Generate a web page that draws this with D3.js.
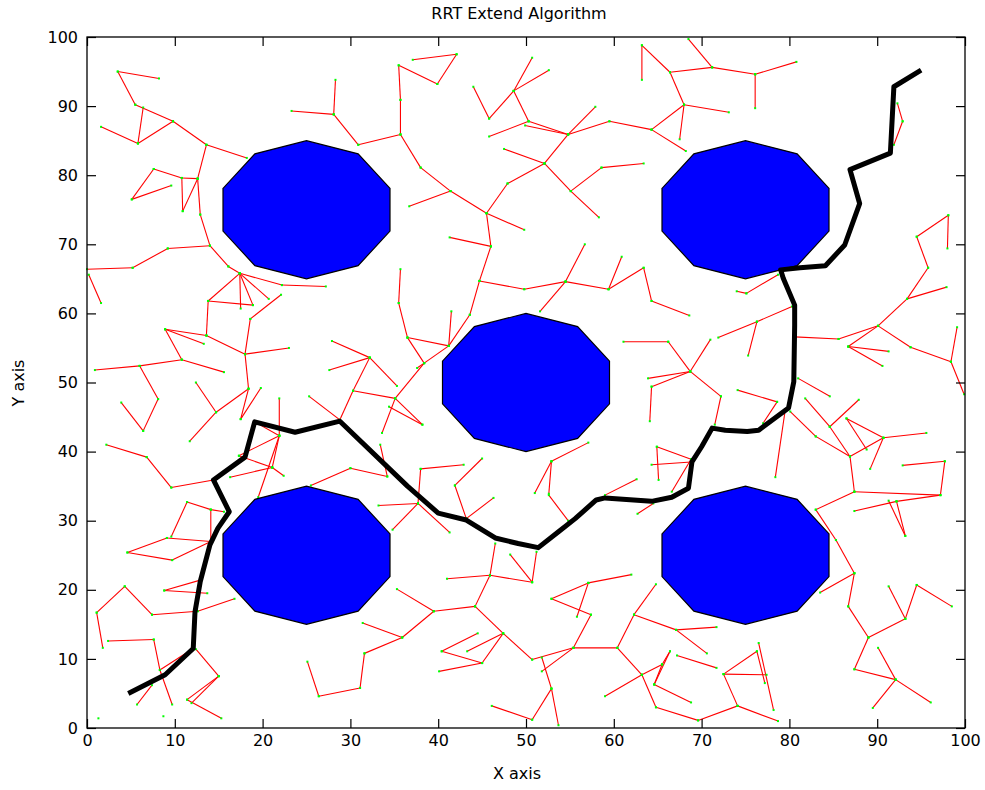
<!DOCTYPE html>
<html>
<head>
<meta charset="utf-8">
<script src="https://cdn.jsdelivr.net/npm/d3@7"></script>
<style>
  body { margin: 0; background: #fff; }
  svg { display: block; }
  text { font-family: "DejaVu Sans", Verdana, sans-serif; fill: #000; }
</style>
</head>
<body>
<svg id="chart" width="985" height="790"></svg>
<script>
// ---- data -------------------------------------------------------------
const xTicks = [0, 10, 20, 30, 40, 50, 60, 70, 80, 90, 100];
const yTicks = [0, 10, 20, 30, 40, 50, 60, 70, 80, 90, 100];

// circular obstacles (drawn as decagons)
const obstacleX = [25, 75, 50, 25, 75];
const obstacleY = [75, 75, 50, 25, 25];
const obstacleR = [10, 10, 10, 10, 10];

// final path from start (5,5) to goal (95,95)
const pathX = [4.7, 8.9, 12.1, 12.3, 12.9, 14.0, 14.9, 16.2, 14.4, 18.0, 19.1, 23.7, 28.8, 36.5, 40.0, 43.2, 46.5, 49.1, 51.4, 53.7, 55.6, 58.0, 59.0, 64.3, 66.6, 68.5, 68.9, 70.0, 71.2, 72.7, 75.2, 76.5, 79.9, 80.5, 80.6, 80.6, 79.3, 79.0, 81.2, 84.1, 86.3, 88.0, 86.9, 91.5, 91.9, 95.0];
const pathY = [5.0, 7.7, 11.5, 16.8, 21.2, 26.5, 28.9, 31.3, 35.9, 39.2, 44.3, 42.8, 44.4, 35.0, 31.1, 30.1, 27.5, 26.7, 26.1, 28.4, 30.3, 33.0, 33.3, 32.8, 33.4, 34.7, 38.5, 40.7, 43.4, 43.1, 42.9, 43.1, 46.3, 50.1, 58.3, 61.2, 65.1, 66.3, 66.6, 66.9, 69.9, 75.9, 80.8, 83.2, 92.8, 95.2];

// tree edges: [x1, y1, x2, y2]
const treeEdges = [
  [3.5,95.0, 8.2,94.0], [3.5,95.0, 5.5,90.2], [5.5,90.2, 9.8,87.8], [6.4,89.8, 5.8,84.6],
  [1.6,87.0, 5.8,84.6], [5.8,84.6, 9.8,87.8], [9.8,87.8, 13.6,84.4], [13.6,84.4, 18.2,82.5],
  [13.6,84.4, 12.6,79.5], [7.6,80.9, 10.8,79.6], [10.8,79.6, 12.6,79.5], [10.8,79.6, 10.9,74.8],
  [10.9,74.8, 12.6,79.5], [7.6,80.9, 5.1,76.5], [5.1,76.5, 9.6,78.5], [12.6,79.5, 12.9,74.3],
  [12.9,74.3, 14.0,69.8], [14.0,69.8, 9.2,69.4], [9.2,69.4, 5.2,66.6], [14.0,69.8, 16.1,66.8],
  [23.3,89.3, 28.1,88.8],
  [28.1,88.8, 28.3,93.8], [28.1,88.8, 30.9,84.4], [30.9,84.4, 35.7,85.9], [35.7,85.9, 35.7,90.9],
  [35.7,90.9, 35.5,95.9], [35.5,95.9, 39.9,93.2], [39.9,93.2, 42.1,97.5], [42.1,97.5, 37.1,96.7],
  [35.7,85.9, 38.0,81.1], [38.0,81.1, 41.4,77.7], [41.4,77.7, 36.7,75.5], [41.4,77.7, 45.5,74.5],
  [45.5,74.5, 49.8,72.1], [45.5,74.5, 46.0,69.7], [46.0,69.7, 41.3,71.0], [46.0,69.7, 44.7,64.7],
  [45.5,74.5, 47.9,78.8], [47.9,78.8, 52.1,81.7], [47.5,83.8, 52.1,81.7], [45.8,85.6, 50.3,87.8],
  [44.0,92.8, 45.8,88.2], [45.8,88.2, 48.6,92.2], [48.6,92.2, 50.7,97.0], [48.6,92.2, 52.6,95.2],
  [48.6,92.2, 50.3,87.8],
  [50.3,87.8, 54.8,85.9], [49.9,87.2, 54.8,85.9], [54.8,85.9, 57.9,89.9], [54.8,85.9, 59.5,87.8],
  [59.5,87.8, 64.3,86.6], [64.3,86.6, 68.0,90.2], [64.3,86.6, 68.2,83.5], [68.0,90.2, 66.4,94.9],
  [68.0,90.2, 73.1,89.1], [68.0,90.2, 67.5,85.2], [66.4,94.9, 63.2,98.8], [63.2,98.8, 63.2,93.8],
  [66.4,94.9, 71.2,95.6], [71.2,95.6, 68.5,99.7], [71.2,95.6, 76.1,94.6], [54.8,85.9, 52.1,81.7],
  [52.1,81.7, 55.1,77.7], [55.1,77.7, 58.6,81.1], [58.6,81.1, 63.4,81.7], [55.1,77.7, 58.3,73.9],
  [56.7,70.0, 54.5,64.6], [60.9,68.2, 59.4,63.5],
  [76.1,94.6, 80.8,96.4], [76.1,94.6, 76.1,89.7], [92.3,90.4, 92.9,87.8], [92.9,87.8, 91.9,84.4],
  [98.1,74.2, 94.5,71.1], [98.1,74.2, 98.0,69.4], [94.5,71.1, 95.8,66.6],
  [0.0,66.4, 5.2,66.6], [0.2,65.6, 1.6,61.5], [16.1,66.8, 17.4,65.8], [17.4,65.8, 13.8,61.8],
  [17.4,65.8, 17.5,60.7], [17.4,65.8, 18.9,61.2], [17.4,65.8, 20.7,62.1], [17.4,65.8, 22.2,64.1],
  [13.8,61.8, 18.9,61.2], [13.8,61.8, 13.6,56.8], [13.6,56.8, 8.9,57.7], [8.9,57.7, 13.3,55.6],
  [8.9,57.7, 10.8,53.3], [13.6,56.8, 18.0,54.1], [18.0,54.1, 18.6,59.2], [18.6,59.2, 22.1,62.7],
  [18.0,54.1, 23.0,55.0], [10.8,53.3, 6.0,52.4], [6.0,52.4, 0.9,51.8], [10.8,53.3, 15.6,51.5],
  [6.0,52.4, 8.1,47.6], [8.1,47.6, 6.4,43.0], [6.4,43.0, 3.9,47.1], [12.4,50.0, 14.7,45.7],
  [14.7,45.7, 11.7,41.5], [14.7,45.7, 18.4,49.1], [18.0,54.1, 18.4,49.1], [18.4,49.1, 17.5,44.7],
  [19.8,49.2, 17.5,44.7], [21.9,47.7, 21.9,42.3], [19.1,44.3, 21.9,42.3], [21.9,42.3, 19.5,33.4],
  [21.9,42.3, 17.3,39.4], [21.9,42.3, 21.1,37.7], [17.3,39.4, 21.1,37.7], [21.1,37.7, 22.4,36.5],
  [21.1,37.7, 16.3,36.3], [2.2,41.0, 6.8,39.2], [6.8,39.2, 9.6,34.8], [9.6,34.8, 14.4,35.9],
  [22.2,64.1, 27.2,63.9],
  [35.7,66.4, 35.5,61.5], [35.5,61.5, 36.5,56.5], [36.5,56.5, 41.2,55.3], [36.5,56.5, 38.4,52.8],
  [41.2,55.3, 41.5,60.3], [41.2,55.3, 43.6,59.8], [43.6,59.8, 44.7,64.7], [44.7,64.7, 49.8,63.5],
  [41.2,55.3, 38.4,52.8], [38.4,52.8, 37.6,52.1], [38.4,52.8, 35.1,47.7], [35.1,47.7, 30.3,48.8],
  [30.3,48.8, 32.2,53.6], [32.2,53.6, 27.9,56.0], [32.2,53.6, 27.6,51.8], [32.2,53.6, 35.3,49.5],
  [30.3,48.8, 28.8,44.6], [35.1,47.7, 38.2,43.9], [34.4,46.5, 38.2,43.9], [35.1,47.7, 33.6,42.7],
  [25.3,48.0, 28.8,44.6], [33.4,41.0, 34.2,36.4], [34.2,36.4, 30.0,37.6], [30.0,37.6, 25.5,35.1],
  [38.0,37.5, 42.9,38.1], [38.0,37.5, 37.7,32.5], [45.0,39.0, 41.9,35.1], [41.9,35.1, 43.2,30.3],
  [49.8,63.5, 54.5,64.6], [54.5,64.6, 51.6,60.3], [54.5,64.6, 59.4,63.5], [59.4,63.5, 63.4,66.6],
  [63.4,66.6, 64.3,61.8], [64.3,61.8, 68.6,59.7], [61.1,55.9, 66.2,55.9], [66.2,55.9, 68.7,51.6],
  [68.7,51.6, 71.0,56.2], [68.7,51.6, 63.9,50.6], [68.7,51.6, 64.3,49.4], [64.3,49.4, 64.1,44.4],
  [68.7,51.6, 72.2,48.0], [72.2,48.0, 71.5,43.9], [71.9,56.5, 76.3,58.8], [74.1,48.9, 78.6,47.2],
  [64.9,40.7, 68.8,38.9], [64.9,40.7, 65.1,35.9], [64.3,38.1, 68.8,38.5], [68.8,38.9, 66.6,34.2],
  [57.1,41.3, 52.9,38.6], [52.9,38.6, 51.0,34.0], [52.9,38.6, 52.6,33.9], [62.6,36.0, 59.0,33.7],
  [74.0,63.2, 75.1,62.9],
  [75.1,62.9, 78.7,65.6], [80.3,61.0, 76.3,58.8], [76.3,58.8, 75.3,53.9], [80.6,56.6, 85.6,56.3],
  [85.6,56.3, 90.1,58.2], [90.1,58.2, 86.7,55.2], [86.7,55.2, 91.3,54.5], [86.7,55.2, 90.6,52.4],
  [90.1,58.2, 93.4,62.1], [93.4,62.1, 97.9,63.8], [93.4,62.1, 95.8,66.6], [90.1,58.2, 93.8,55.1],
  [93.8,55.1, 98.4,53.0], [98.4,53.0, 99.1,58.0], [98.4,53.0, 99.9,48.3], [81.0,50.6, 84.6,48.0],
  [78.6,47.2, 77.0,44.1], [81.8,47.7, 84.6,43.6], [84.6,43.6, 87.9,47.5], [84.6,43.6, 86.9,39.3],
  [80.1,45.8, 83.0,42.2], [83.0,42.2, 86.9,39.3], [86.5,44.8, 90.7,42.0], [86.5,44.8, 88.8,40.3],
  [90.7,42.0, 95.6,42.7], [90.7,42.0, 89.2,37.5], [90.7,42.0, 86.9,39.3], [86.9,39.3, 87.4,34.2],
  [79.5,45.8, 78.4,36.3], [92.9,38.0, 97.7,38.6], [97.7,38.6, 97.2,33.7], [87.4,34.2, 97.2,33.7],
  [11.4,32.7, 14.1,31.6], [14.1,31.6, 15.6,31.3], [11.4,32.7, 9.6,27.7], [14.1,31.6, 14.1,27.0],
  [9.1,27.5, 14.1,27.0], [9.1,27.5, 4.6,25.4], [4.6,25.4, 9.7,24.3], [9.7,24.3, 14.1,27.0],
  [8.8,19.9, 12.9,21.4], [8.8,19.9, 13.7,19.5], [4.3,20.5, 1.1,16.7], [1.1,16.7, 1.8,11.6],
  [4.3,20.5, 7.4,16.4], [7.4,16.4, 12.6,16.9], [12.6,16.9, 16.8,18.7], [2.4,12.6, 7.6,12.8],
  [7.6,12.8, 8.3,8.4], [8.3,8.4, 9.7,3.4], [8.3,8.4, 12.1,11.5], [12.4,11.4, 15.0,7.5],
  [15.0,7.5, 11.4,4.1], [11.4,4.1, 15.3,1.4], [11.9,3.6, 15.0,7.5], [5.7,3.4, 7.4,6.2],
  [33.2,32.2, 37.7,32.5], [37.7,32.5, 34.8,28.7], [37.7,32.5, 41.3,28.3], [43.2,30.3, 46.3,33.3],
  [46.5,26.7, 45.9,22.1], [45.9,22.1, 41.0,21.6], [45.9,22.1, 50.7,21.1], [45.9,22.1, 44.2,17.6],
  [44.2,17.6, 39.5,16.9], [39.5,16.9, 35.3,20.1], [39.5,16.9, 35.9,13.1], [35.9,13.1, 31.4,15.2],
  [35.9,13.1, 31.6,10.8], [31.6,10.8, 31.1,5.8], [31.1,5.8, 26.4,4.6], [26.4,4.6, 25.1,9.6],
  [44.2,17.6, 47.4,13.7], [47.4,13.7, 50.7,9.9], [44.5,13.7, 40.4,11.1], [43.3,11.1, 47.4,13.7],
  [47.4,13.7, 45.0,9.4], [45.0,9.4, 40.4,11.1], [45.0,9.4, 40.1,8.2], [48.2,25.1, 50.7,21.1],
  [46.1,3.2, 50.7,1.2],
  [52.6,33.7, 54.8,30.0], [64.5,32.5, 62.7,31.0], [51.2,25.5, 50.7,21.1], [62.0,22.2, 57.1,21.0],
  [57.1,21.0, 52.9,18.7], [52.9,18.7, 57.4,16.4], [57.1,21.0, 55.8,16.1], [57.4,16.4, 55.4,11.6],
  [55.4,11.6, 60.4,11.6], [55.4,11.6, 50.7,9.9], [60.4,11.6, 62.3,16.4], [62.3,16.4, 64.8,20.8],
  [62.3,16.4, 67.1,14.2], [67.1,14.2, 71.7,14.6], [67.1,14.2, 70.6,10.8], [60.4,11.6, 63.2,7.7],
  [63.2,7.7, 59.0,4.6], [63.2,7.7, 65.5,9.2], [63.2,7.7, 64.8,3.0], [64.8,3.0, 69.6,1.1],
  [69.6,1.1, 74.1,3.2], [74.1,3.2, 72.5,7.8], [65.5,9.2, 64.6,6.3], [64.6,6.3, 68.8,3.7],
  [64.6,6.3, 66.4,11.1], [67.2,10.5, 71.7,8.7], [66.4,11.1, 65.5,9.2], [55.4,11.6, 51.8,8.2],
  [51.8,10.2, 52.9,5.7], [52.9,5.7, 53.7,0.4], [52.9,5.7, 50.7,1.2], [72.5,7.8, 76.3,11.1],
  [72.5,7.8, 77.4,7.7], [74.1,3.2, 78.7,1.0],
  [83.0,31.6, 87.4,34.2], [83.0,31.6, 85.3,27.2], [85.3,27.2, 87.4,22.4], [87.4,22.4, 83.5,19.6],
  [87.4,22.4, 86.7,17.6], [86.7,17.6, 89.0,13.1], [89.0,13.1, 93.2,15.8], [93.2,15.8, 91.3,20.5],
  [93.2,15.8, 94.5,20.7], [94.5,20.7, 98.5,17.6], [89.0,13.1, 87.4,8.5], [87.4,8.5, 92.1,7.0],
  [92.1,7.0, 90.1,11.6], [92.1,7.0, 96.1,3.7], [92.1,7.0, 89.5,2.9], [87.4,31.4, 92.2,32.8],
  [92.2,32.8, 97.2,33.7], [92.2,32.8, 93.2,27.8], [91.3,32.9, 93.2,27.8], [76.5,12.3, 78.2,2.6],
  [76.3,11.1, 77.2,6.5]
];

// sampled nodes that never got connected
const loneNodes = [[1.3, 1.4], [8.7, 1.7], [66.9, 33.4]];

// ---- layout ----------------------------------------------------------
const svg = d3.select("#chart");
const plotL = 87, plotR = 965, plotT = 37, plotB = 728;
const x = d3.scaleLinear().domain([0, 100]).range([plotL, plotR]);
const y = d3.scaleLinear().domain([0, 100]).range([plotB, plotT]);
const tickLen = 9;
const fontSize = 16;

svg.append("rect").attr("width", 985).attr("height", 790).attr("fill", "#fff");

const plot = svg.append("g");

// tree edges
plot.append("g")
  .selectAll("line")
  .data(treeEdges)
  .join("line")
  .attr("x1", d => x(d[0])).attr("y1", d => y(d[1]))
  .attr("x2", d => x(d[2])).attr("y2", d => y(d[3]))
  .attr("stroke", "#ff0000")
  .attr("stroke-width", 1.1);

// tree nodes
const nodes = treeEdges.flatMap(d => [[d[0], d[1]], [d[2], d[3]]]).concat(loneNodes);
plot.append("g")
  .selectAll("rect")
  .data(nodes)
  .join("rect")
  .attr("x", d => x(d[0]) - 1).attr("y", d => y(d[1]) - 1)
  .attr("width", 2).attr("height", 2)
  .attr("fill", "#00ff00");

// obstacles
const decagon = (cx, cy, r) => d3.range(10).map(k => {
  const a = (18 + 36 * k) * Math.PI / 180;
  return [x(cx + r * Math.cos(a)), y(cy + r * Math.sin(a))];
});
plot.append("g")
  .selectAll("path")
  .data(obstacleX.map((cx, i) => decagon(cx, obstacleY[i], obstacleR[i])))
  .join("path")
  .attr("d", pts => "M" + pts.map(p => p.join(",")).join("L") + "Z")
  .attr("fill", "#0000ff")
  .attr("stroke", "#000")
  .attr("stroke-width", 1.2);

// final path
plot.append("path")
  .datum(pathX.map((px, i) => [px, pathY[i]]))
  .attr("d", d3.line().x(d => x(d[0])).y(d => y(d[1])))
  .attr("fill", "none")
  .attr("stroke", "#000")
  .attr("stroke-width", 5)
  .attr("stroke-linejoin", "round")
  .attr("stroke-linecap", "butt");

// axes, ticks pointing inward on all four sides
const styleAxis = g => {
  g.select(".domain").remove();
  g.selectAll(".tick line").attr("stroke", "#000").attr("stroke-width", 1.2);
  g.selectAll(".tick text").attr("font-size", fontSize).attr("font-family", null).attr("fill", "#000");
};
svg.append("g").attr("transform", `translate(0,${plotB})`)
  .call(d3.axisBottom(x).tickValues(xTicks).tickSize(-tickLen).tickPadding(7))
  .call(styleAxis);
svg.append("g").attr("transform", `translate(0,${plotT})`)
  .call(d3.axisTop(x).tickValues(xTicks).tickSize(-tickLen).tickFormat(""))
  .call(styleAxis);
svg.append("g").attr("transform", `translate(${plotL},0)`)
  .call(d3.axisLeft(y).tickValues(yTicks).tickSize(-tickLen).tickPadding(9))
  .call(styleAxis);
svg.append("g").attr("transform", `translate(${plotR},0)`)
  .call(d3.axisRight(y).tickValues(yTicks).tickSize(-tickLen).tickFormat(""))
  .call(styleAxis);

svg.append("rect")
  .attr("x", plotL).attr("y", plotT)
  .attr("width", plotR - plotL).attr("height", plotB - plotT)
  .attr("fill", "none").attr("stroke", "#000").attr("stroke-width", 1.3);

// titles
svg.append("text").attr("x", 519).attr("y", 19)
  .attr("text-anchor", "middle").attr("font-size", fontSize)
  .text("RRT Extend Algorithm");
svg.append("text").attr("x", 517).attr("y", 779)
  .attr("text-anchor", "middle").attr("font-size", fontSize)
  .text("X axis");
svg.append("text").attr("transform", "translate(24,383) rotate(-90)")
  .attr("text-anchor", "middle").attr("font-size", fontSize)
  .text("Y axis");
</script>
</body>
</html>
